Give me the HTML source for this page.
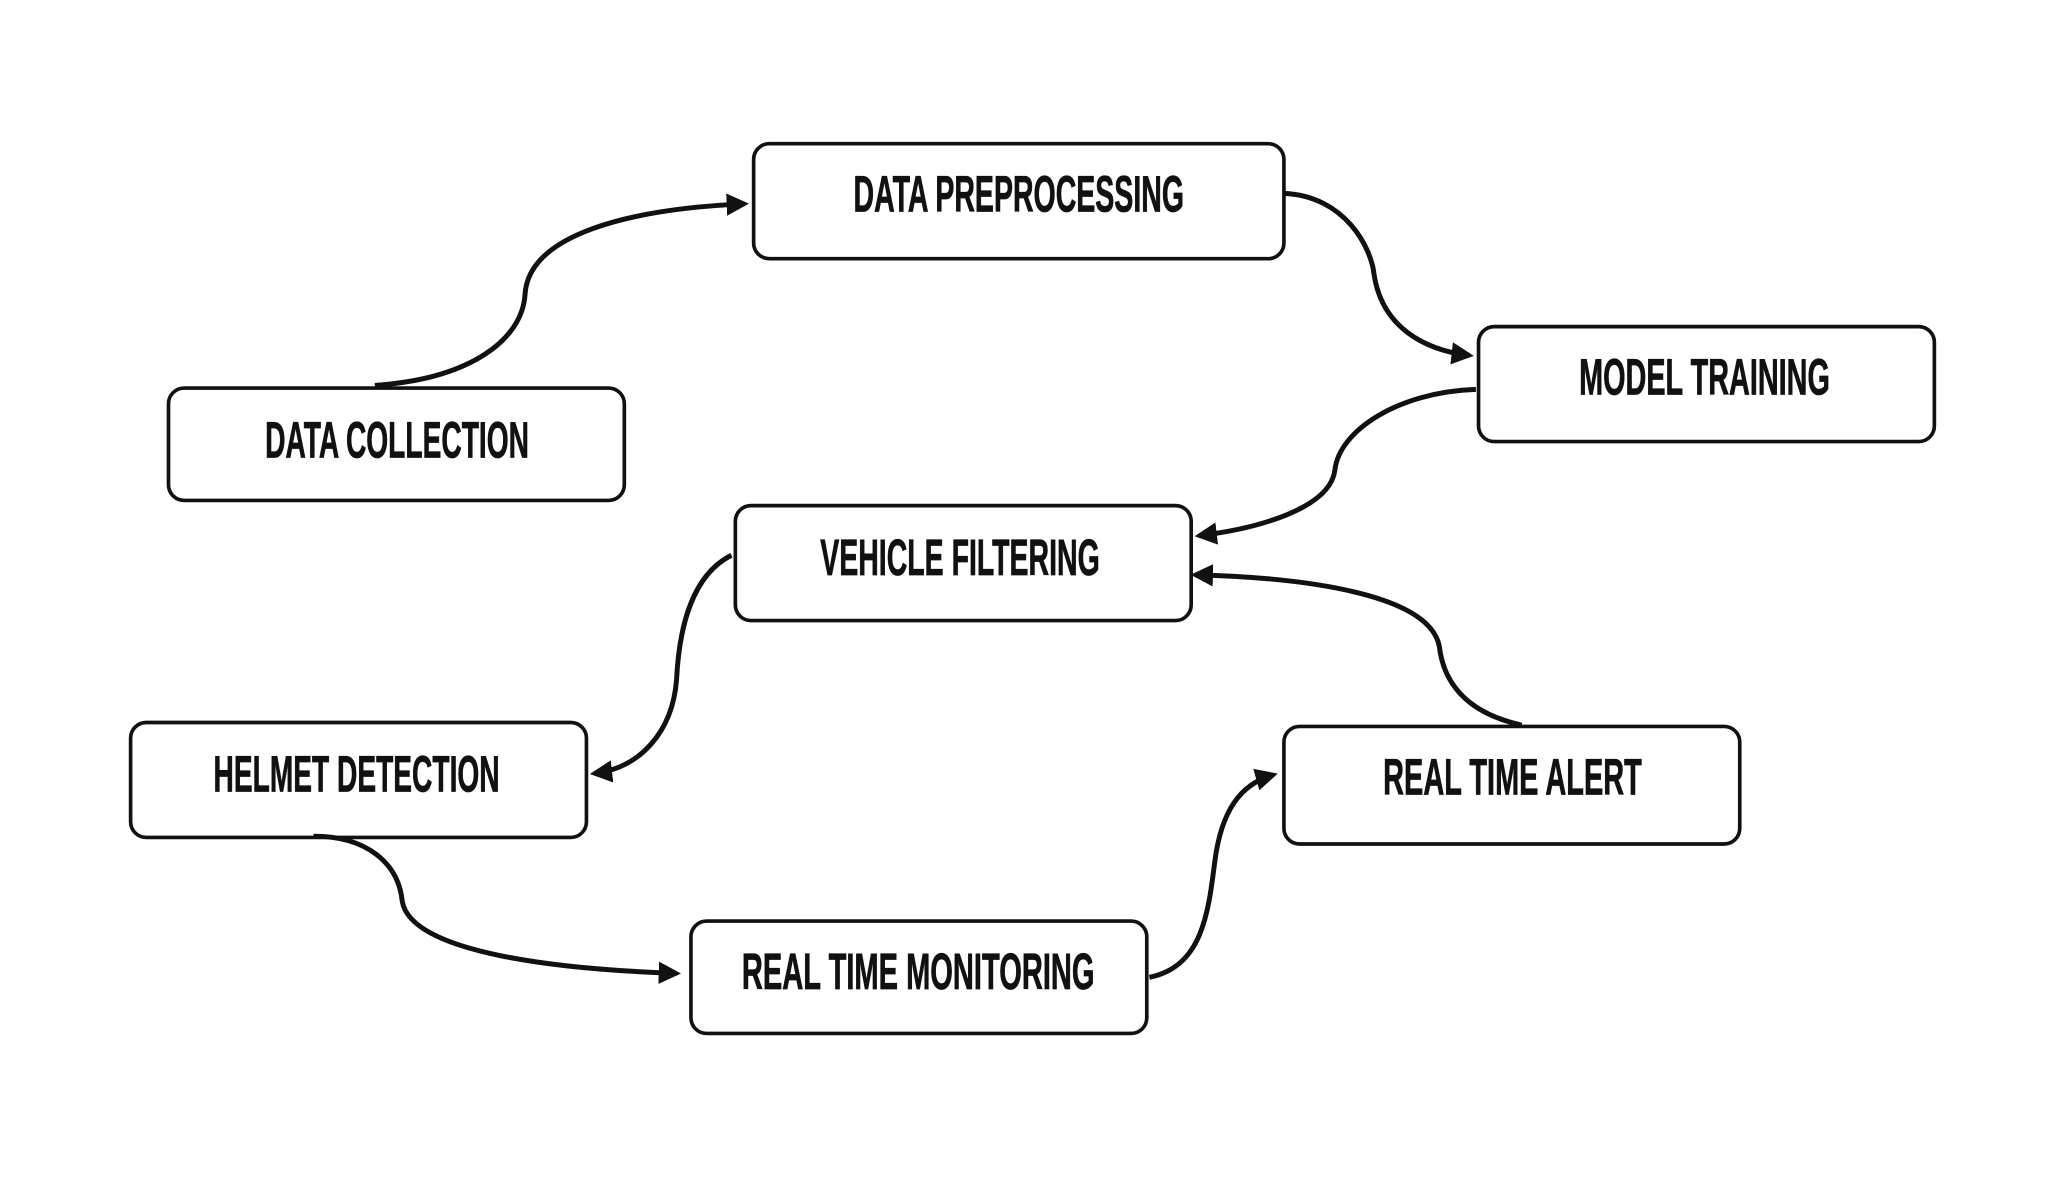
<!DOCTYPE html>
<html><head><style>html,body{margin:0;padding:0;background:#fff;}svg{display:block}</style></head>
<body>
<svg width="2048" height="1202" viewBox="0 0 1568 920" preserveAspectRatio="none" xmlns="http://www.w3.org/2000/svg">
<defs>
<marker id="a" viewBox="0 0 10 10" refX="8" refY="5" markerWidth="4.5" markerHeight="4.5" orient="auto" markerUnits="strokeWidth">
<path d="M0,0 L10,5 L0,10 z" fill="#111"/></marker>
</defs>
<rect width="1568" height="920" fill="#fff"/>
<g fill="#fff" stroke="#111" stroke-width="2.8">
<rect x="577" y="110" width="406" height="88" rx="12"/>
<rect x="129" y="297" width="349" height="86" rx="12"/>
<rect x="1132" y="250" width="349" height="88" rx="12"/>
<rect x="563" y="387" width="349" height="88" rx="12"/>
<rect x="100" y="553" width="349" height="88" rx="12"/>
<rect x="983" y="556" width="349" height="90" rx="12"/>
<rect x="529" y="705" width="349" height="86" rx="12"/>
</g>
<g fill="none" stroke="#111" stroke-width="3.8" marker-end="url(#a)">
<path d="M287 295 C360 290,400 260,402 225 C405 180,480 160,570 156"/>
<path d="M983 148 C1030 150,1050 190,1052 210 C1058 250,1090 268,1125 272"/>
<path d="M1130 298 C1070 300,1025 330,1022 360 C1018 390,960 405,918 410"/>
<path d="M1165 555 C1120 545,1105 520,1102 495 C1095 455,1000 442,915 440"/>
<path d="M560 425 C530 440,520 480,518 520 C515 560,490 588,455 592"/>
<path d="M240 640 C280 640,305 660,308 690 C315 730,430 742,518 745"/>
<path d="M880 748 C920 740,925 700,930 660 C935 620,950 600,975 593"/>
</g>
<g font-family="'Liberation Sans',sans-serif" font-weight="bold" font-size="39" fill="#111" stroke="#111" stroke-width="0.6" text-anchor="middle">
<text x="780" y="162" textLength="253" lengthAdjust="spacingAndGlyphs">DATA PREPROCESSING</text>
<text x="304" y="350" textLength="202" lengthAdjust="spacingAndGlyphs">DATA COLLECTION</text>
<text x="1305" y="302" textLength="192" lengthAdjust="spacingAndGlyphs">MODEL TRAINING</text>
<text x="735" y="440" textLength="214" lengthAdjust="spacingAndGlyphs">VEHICLE FILTERING</text>
<text x="273" y="606" textLength="219" lengthAdjust="spacingAndGlyphs">HELMET DETECTION</text>
<text x="1158" y="608" textLength="198" lengthAdjust="spacingAndGlyphs">REAL TIME ALERT</text>
<text x="703" y="757" textLength="270" lengthAdjust="spacingAndGlyphs">REAL TIME MONITORING</text>
</g>
</svg>
</body></html>
